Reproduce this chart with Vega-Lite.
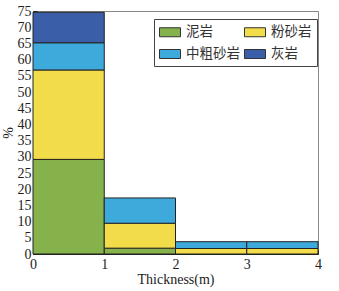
{
  "$schema": "https://vega.github.io/schema/vega-lite/v6.json",
  "width": 285,
  "height": 243,
  "autosize": "none",
  "padding": {"left": 33, "top": 11, "right": 21, "bottom": 37},
  "background": "white",
  "config": {
    "view": {"stroke": "#888", "strokeWidth": 1},
    "font": "Liberation Serif"
  },
  "data": {
    "values": [
      {"x0": 0, "x1": 1, "rock": "泥岩", "o": 1, "value": 29.2},
      {"x0": 0, "x1": 1, "rock": "粉砂岩", "o": 2, "value": 27.6},
      {"x0": 0, "x1": 1, "rock": "中粗砂岩", "o": 3, "value": 8.4},
      {"x0": 0, "x1": 1, "rock": "灰岩", "o": 4, "value": 9.4},
      {"x0": 1, "x1": 2, "rock": "泥岩", "o": 1, "value": 1.8},
      {"x0": 1, "x1": 2, "rock": "粉砂岩", "o": 2, "value": 7.7},
      {"x0": 1, "x1": 2, "rock": "中粗砂岩", "o": 3, "value": 7.8},
      {"x0": 2, "x1": 3, "rock": "粉砂岩", "o": 2, "value": 1.7},
      {"x0": 2, "x1": 3, "rock": "中粗砂岩", "o": 3, "value": 2.1},
      {"x0": 3, "x1": 4, "rock": "粉砂岩", "o": 2, "value": 1.7},
      {"x0": 3, "x1": 4, "rock": "中粗砂岩", "o": 3, "value": 2.1}
    ]
  },
  "mark": {"type": "bar", "orient": "vertical", "stroke": "#222", "strokeWidth": 1},
  "encoding": {
    "x": {
      "field": "x0", "type": "quantitative",
      "scale": {"domain": [0, 4], "nice": false, "zero": false, "padding": 0},
      "axis": {
        "values": [0, 1, 2, 3, 4], "format": "d", "grid": false,
        "title": "Thickness(m)", "titleFont": "Liberation Serif", "titleFontSize": 14,
        "titleFontWeight": "normal", "titleColor": "#222", "titlePadding": 1,
        "labelFont": "Liberation Serif", "labelFontSize": 14, "labelColor": "#222",
        "tickSize": -4, "tickColor": "#222", "domainColor": "#222", "labelPadding": 7,
        "labelFlush": false
      }
    },
    "x2": {"field": "x1"},
    "y": {
      "field": "value", "type": "quantitative", "stack": "zero",
      "scale": {"domain": [0, 75], "nice": false},
      "axis": {
        "values": [0, 5, 10, 15, 20, 25, 30, 35, 40, 45, 50, 55, 60, 65, 70, 75],
        "grid": false, "title": "%", "titleFont": "Liberation Serif", "titleFontSize": 14,
        "titleFontWeight": "normal", "titleColor": "#222", "titlePadding": 2,
        "labelFont": "Liberation Serif", "labelFontSize": 14, "labelColor": "#222",
        "tickSize": -4, "tickColor": "#222", "domainColor": "#222", "labelPadding": 6,
        "labelFlush": false
      }
    },
    "color": {
      "field": "rock", "type": "nominal",
      "scale": {
        "domain": ["泥岩", "中粗砂岩", "粉砂岩", "灰岩"],
        "range": ["#86b24b", "#3eaadc", "#f2dc4a", "#3a5ea8"]
      },
      "legend": {
        "title": null, "orient": "none", "legendX": 121, "legendY": 8,
        "columns": 2, "columnPadding": 2, "rowPadding": 7,
        "symbolType": "M-1,-0.6H1.8V0.6H-1Z", "symbolSize": 225,
        "symbolStrokeColor": "#333", "symbolStrokeWidth": 1, "symbolOpacity": 1,
        "labelFont": "Noto Sans CJK SC", "labelFontSize": 13.5, "labelColor": "#333",
        "labelOffset": 11,
        "strokeColor": "#444", "padding": 5, "fillColor": "white"
      }
    },
    "order": {"field": "o", "type": "quantitative"}
  }
}
